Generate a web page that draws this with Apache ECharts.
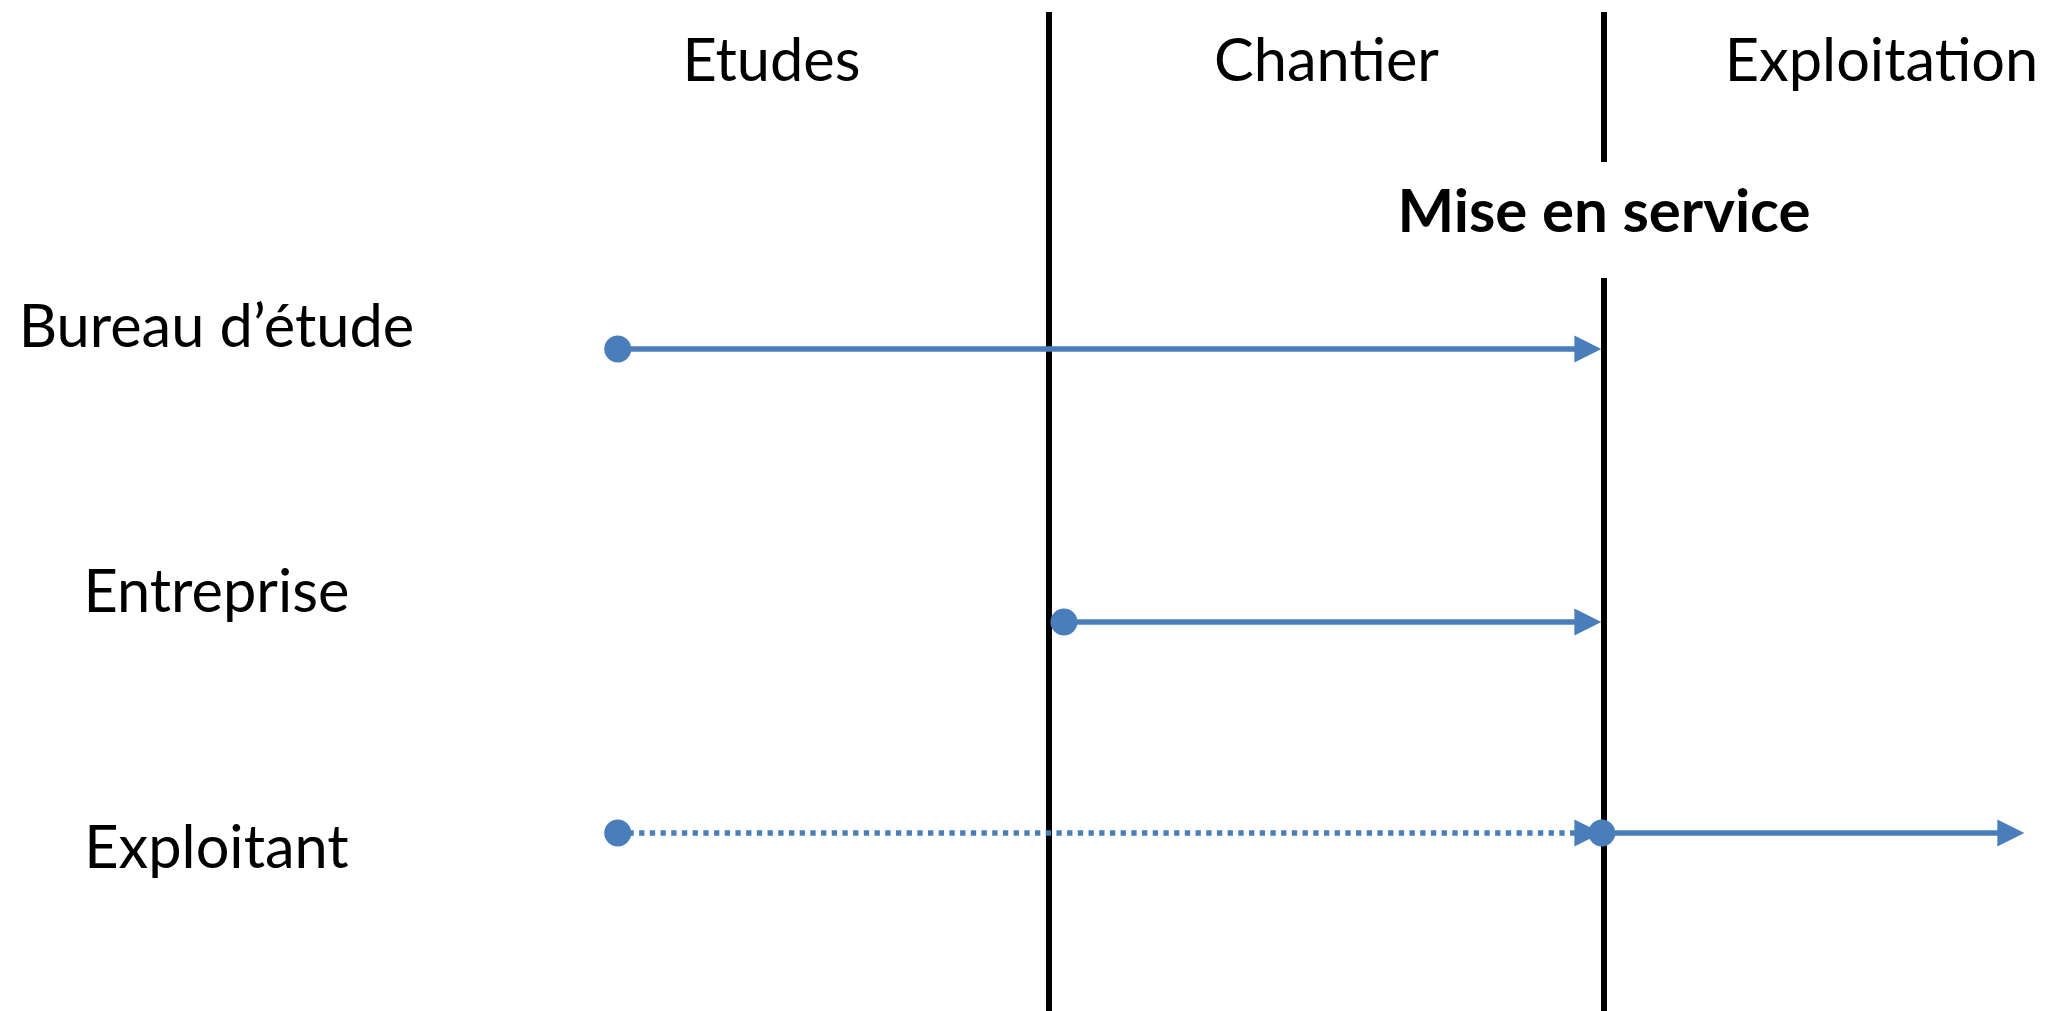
<!DOCTYPE html>
<html>
<head>
<meta charset="utf-8">
<script src="https://cdn.jsdelivr.net/npm/echarts@6/dist/echarts.min.js"></script>
<style>html,body{margin:0;padding:0;background:#fff;}#c{width:2053px;height:1011px;}</style>
</head>
<body>
<div id="c"></div>
<script>
// Phases (columns) and their centres on the time axis
const phases = ['Etudes', 'Chantier', 'Exploitation'];
const phaseX = [0.5, 1.5, 2.5];
const phaseLabelY = 0.614;
// Milestone boundaries (vertical lines)
const boundaryX = [1, 2];
const milestoneName = 'Mise en service';
const milestoneLabelY = 2.13;
// Actors (rows)
const actors = ['Bureau d’étude', 'Entreprise', 'Exploitant'];
const actorLabelX = -0.5;
const actorRowY = [3.49, 6.22, 8.33];
const actorLabelY = [3.28, 5.93, 8.49];
// Intervention spans [start, end]
const bureauSpan = [0.223, 1.971];
const entrepriseSpan = [1.027, 1.971];
const exploitantPrepSpan = [0.223, 1.971];   // dotted
const exploitantOpsSpan = [1.996, 2.733];    // solid
// Vertical extent of boundaries, and gap for milestone label
const lineTop = 0.12, lineBottom = 10.11;
const gapTop = 1.62, gapBottom = 2.78;

const BLUE = '#4A7EBB';
const FONT = 'Lato';

function arrowSeries(span, y, dashed) {
  return {
    type: 'line',
    z: 5,
    silent: true,
    lineStyle: { color: BLUE, width: 5.4, type: dashed ? [5.3, 5.4] : 'solid', cap: 'butt' },
    itemStyle: { color: BLUE },
    data: [
      { value: [span[0], y], symbol: 'circle', symbolSize: 27 },
      { value: [span[1], y], symbol: 'triangle', symbolSize: [27, 27], symbolRotate: -90 }
    ]
  };
}
function vline(x, y0, y1) {
  return {
    type: 'line', z: 2, silent: true, symbol: 'none',
    lineStyle: { color: '#000', width: 6 },
    data: [[x, y0], [x, y1]]
  };
}
function textSeries(points, fontSize, fontWeight) {
  return {
    type: 'scatter', z: 10, silent: true, symbolSize: 1,
    itemStyle: { color: 'rgba(0,0,0,0)' },
    label: { show: true, position: 'inside', formatter: p => p.data[2],
      color: '#000', opacity: 1, fontFamily: FONT, fontSize: fontSize, fontWeight: fontWeight },
    data: points
  };
}

const series = [
  vline(boundaryX[0], lineTop, lineBottom),
  vline(boundaryX[1], lineTop, gapTop),
  vline(boundaryX[1], gapBottom, lineBottom),
  arrowSeries(bureauSpan, actorRowY[0], false),
  arrowSeries(entrepriseSpan, actorRowY[1], false),
  arrowSeries(exploitantPrepSpan, actorRowY[2], true),
  arrowSeries(exploitantOpsSpan, actorRowY[2], false),
  textSeries(phases.map((n, i) => [phaseX[i], phaseLabelY, n])
    .concat(actors.map((n, i) => [actorLabelX, actorLabelY[i], n])), 59.5, 'normal'),
  textSeries([[boundaryX[1], milestoneLabelY, milestoneName]], 60, 'bold')
];

const chart = echarts.init(document.getElementById('c'), null, { renderer: 'canvas' });
chart.setOption({
  animation: false,
  backgroundColor: '#fff',
  grid: { left: 0, right: 0, top: 0, bottom: 0 },
  xAxis: { type: 'value', min: -0.89, max: 2.809, show: false },
  yAxis: { type: 'value', min: 0, max: 10.11, inverse: true, show: false },
  series: series
});
</script>
</body>
</html>
